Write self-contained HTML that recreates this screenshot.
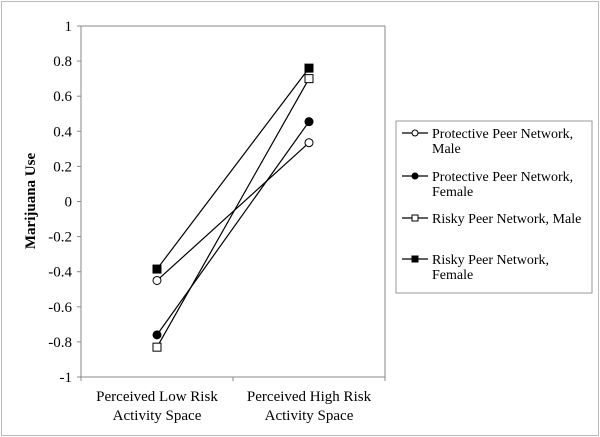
<!DOCTYPE html>
<html><head><meta charset="utf-8"><style>
body{margin:0;background:#fff}
svg{display:block;font-family:"Liberation Serif",serif}
</style></head><body>
<svg width="600" height="437">
<rect x="1.5" y="1.5" width="597" height="434" fill="#fff" stroke="#bbb"/>
<line x1="81" y1="26" x2="385" y2="26" stroke="#888"/>
<line x1="385" y1="26" x2="385" y2="377" stroke="#888"/>
<line x1="81" y1="26" x2="81" y2="377" stroke="#888"/>
<line x1="81" y1="377" x2="385" y2="377" stroke="#888"/>
<g id="yt"></g><g id="xt"></g><g id="series"></g>
<text transform="translate(35,201) rotate(-90)" text-anchor="middle" font-weight="bold" font-size="15">Marijuana Use</text>
<g>
<rect x="396" y="121" width="196" height="172" fill="#fff" stroke="#999"/>
<g id="leg"></g>
</g>
</svg>
<script>
const categories=[["Perceived Low Risk","Activity Space"],["Perceived High Risk","Activity Space"]];
const yTicks=[1,0.8,0.6,0.4,0.2,0,-0.2,-0.4,-0.6,-0.8,-1];
const seriesNames=[["Protective Peer Network,","Male"],["Protective Peer Network,","Female"],["Risky Peer Network, Male"],["Risky Peer Network,","Female"]];
const protectiveMale=[-0.45,0.335];
const protectiveFemale=[-0.76,0.455];
const riskyMale=[-0.83,0.70];
const riskyFemale=[-0.385,0.76];
const NS="http://www.w3.org/2000/svg";
const y=v=>26+(1-v)/2*351;
const x=i=>157+i*152;
function mk(t,a,p){const e=document.createElementNS(NS,t);for(const k in a)e.setAttribute(k,a[k]);p.appendChild(e);return e;}
const yt=document.getElementById('yt');
yTicks.forEach(v=>{
 const l=mk('line',{x1:77,x2:81,y1:y(v),y2:y(v),stroke:'#888'},yt);
 
 
 const t=mk('text',{x:72,y:y(v)+5,'text-anchor':'end','font-size':15},yt);
 
 
 t.textContent=String(v);
});
const xt=document.getElementById('xt');
[81,233,385].forEach(px=>{const l=mk('line',{x1:px,x2:px,y1:377,y2:381,stroke:'#888'},xt);
 
 });
categories.forEach((c,i)=>{c.forEach((s,j)=>{const t=mk('text',{x:x(i),y:401+j*19,'text-anchor':'middle','font-size':15},xt);
 
 
 t.textContent=s;});});
const data=[protectiveMale,protectiveFemale,riskyMale,riskyFemale];
const shapes=[['c','#fff'],['c','#000'],['s','#fff'],['s','#000']];
function marker(px,py,sh,p){
 if(sh[0]=='c')return mk('circle',{cx:px,cy:py,r:4,fill:sh[1],stroke:'#000'},p);
 return mk('rect',{x:px-4,y:py-4,width:8,height:8,fill:sh[1],stroke:'#000'},p);
}
const sg=document.getElementById('series');
data.forEach((d,k)=>{
 const g=mk('g',{},sg);
 
 
 const pl=mk('polyline',{points:d.map((v,i)=>x(i)+','+y(v)).join(' '),fill:'none',stroke:'#000','stroke-width':1.2},g);
 
 
 d.forEach((v,i)=>{const m=marker(x(i),y(v),shapes[k],g);
  
  });
});
const leg=document.getElementById('leg');
const rows=[133,176,218,259];
seriesNames.forEach((n,k)=>{
 const g=mk('g',{},leg);
 
 
 mk('line',{x1:402,x2:428,y1:rows[k],y2:rows[k],stroke:'#000','stroke-width':1.2},g);
 const m=marker(415,rows[k],shapes[k],g);m.setAttribute(m.tagName=='circle'?'r':'width',m.tagName=='circle'?3:6);
 if(m.tagName=='rect'){m.setAttribute('x',412);m.setAttribute('y',rows[k]-3);m.setAttribute('height',6);}
 n.forEach((s,j)=>{const t=mk('text',{x:432,y:rows[k]+5+j*15,'font-size':14},g);t.textContent=s;});
});
</script>
</body></html>
